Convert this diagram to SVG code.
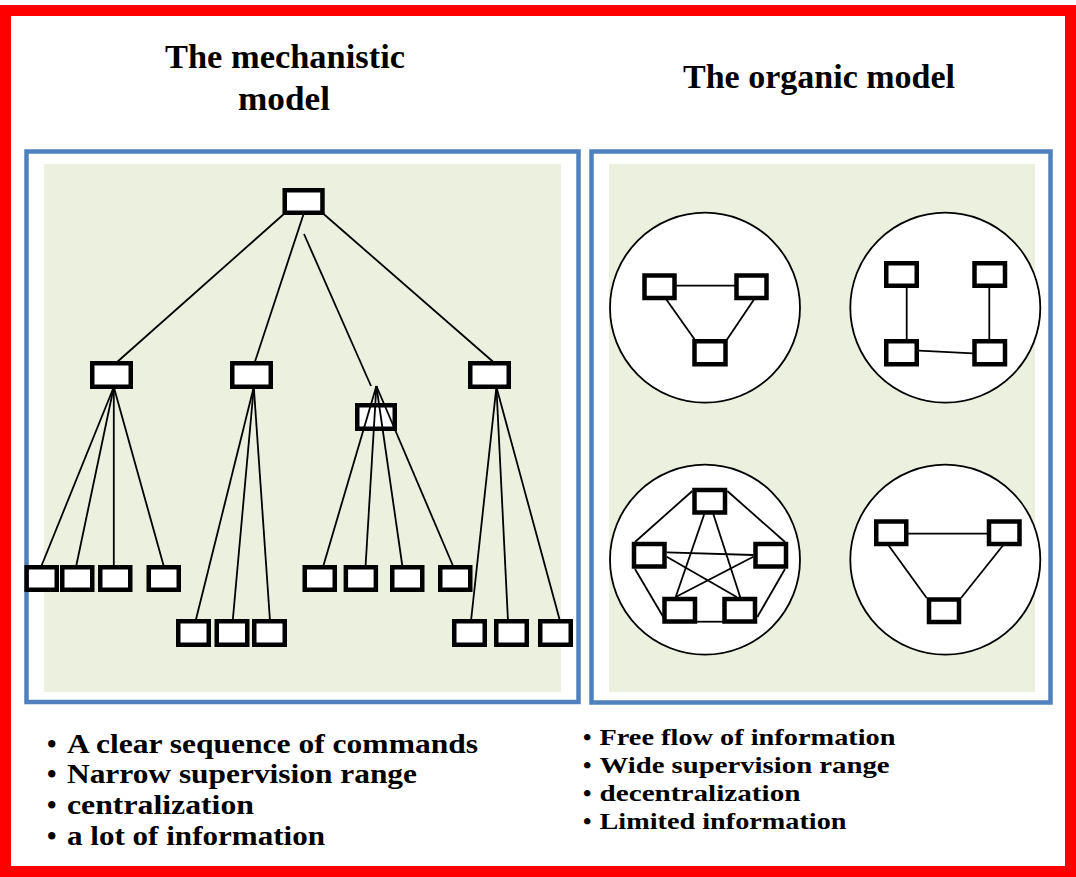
<svg xmlns="http://www.w3.org/2000/svg" width="1076" height="877" viewBox="0 0 1076 877">
<style>
.frame{fill:#fff;stroke:#FF0000;stroke-width:11}
.panel{fill:#fff;stroke:#4F81BD;stroke-width:4.5}
.bg{fill:#EBF1DE}
.n{fill:#fff;stroke:#000;stroke-width:4.5}
.c{fill:#fff;stroke:#000;stroke-width:1.8}
.l{stroke:#000;stroke-width:1.8;fill:none}
.t{font-family:"Liberation Serif","DejaVu Serif",serif;font-weight:bold;fill:#000}
.h{font-size:33px}
.b1{font-size:27px}
.b2{font-size:24px}
</style>
<rect class="frame" x="5.5" y="10.5" width="1065" height="861"/>
<g id="titles">
<text class="t h" x="285" y="68" text-anchor="middle" textLength="240" lengthAdjust="spacingAndGlyphs">The mechanistic</text>
<text class="t h" x="284" y="110" text-anchor="middle" textLength="92" lengthAdjust="spacingAndGlyphs">model</text>
<text class="t h" x="819" y="88" text-anchor="middle" textLength="272" lengthAdjust="spacingAndGlyphs">The organic model</text>
</g>
<g id="panels">
<rect class="panel" x="26.5" y="151.5" width="552" height="550.5"/>
<rect class="bg" x="44" y="164" width="517" height="528"/>
<rect class="panel" x="591.5" y="151.5" width="459" height="551"/>
<rect class="bg" x="609" y="164" width="426" height="528"/>
</g>
<g id="connectors">
<line class="l" x1="285" y1="213" x2="116" y2="363"/>
<line class="l" x1="303.6" y1="214" x2="254.5" y2="363"/>
<line class="l" x1="304" y1="234" x2="371" y2="386"/>
<line class="l" x1="322.5" y1="213" x2="494.5" y2="363"/>
<line class="l" x1="113.8" y1="387" x2="41" y2="567"/>
<line class="l" x1="113.8" y1="387" x2="76" y2="567"/>
<line class="l" x1="113.8" y1="387" x2="113.8" y2="567"/>
<line class="l" x1="113.8" y1="387" x2="164" y2="567"/>
<line class="l" x1="253.8" y1="387" x2="195.6" y2="621"/>
<line class="l" x1="253.8" y1="387" x2="232.7" y2="621"/>
<line class="l" x1="253.8" y1="387" x2="270" y2="621"/>
<line class="l" x1="496.4" y1="387" x2="471" y2="621"/>
<line class="l" x1="496.4" y1="387" x2="508" y2="621"/>
<line class="l" x1="496.4" y1="387" x2="560" y2="621"/>
</g>
<g id="mid-node-C">
<rect class="n" x="357.25" y="405.25" width="37.5" height="23.5"/>
<line class="l" x1="376.4" y1="386" x2="323" y2="567"/>
<line class="l" x1="376.4" y1="386" x2="365.5" y2="567"/>
<line class="l" x1="376.4" y1="386" x2="402.5" y2="567"/>
<line class="l" x1="376.4" y1="386" x2="453.5" y2="567"/>
</g>
<g id="node-top"><rect class="n" x="284.75" y="190.25" width="37.7" height="22.5"/></g>
<g id="node-A"><rect class="n" x="92.25" y="363.25" width="38.5" height="23.5"/></g>
<g id="node-B"><rect class="n" x="232.25" y="363.25" width="38.5" height="23.5"/></g>
<g id="node-D"><rect class="n" x="470.25" y="363.25" width="38.5" height="23.5"/></g>
<g id="leaves-A">
<rect class="n" x="26.65" y="567.25" width="30.1" height="22.5"/>
<rect class="n" x="62.25" y="567.25" width="30" height="22.5"/>
<rect class="n" x="100.25" y="567.25" width="30" height="22.5"/>
<rect class="n" x="148.75" y="567.25" width="30" height="22.5"/>
</g>
<g id="leaves-B">
<rect class="n" x="178.25" y="621.25" width="30.5" height="23.5"/>
<rect class="n" x="216.75" y="621.25" width="30.5" height="23.5"/>
<rect class="n" x="254.25" y="621.25" width="30.5" height="23.5"/>
</g>
<g id="leaves-C">
<rect class="n" x="304.75" y="567.25" width="30" height="22.5"/>
<rect class="n" x="345.85" y="567.25" width="30" height="22.5"/>
<rect class="n" x="392.25" y="567.25" width="30" height="22.5"/>
<rect class="n" x="440.25" y="567.25" width="30" height="22.5"/>
</g>
<g id="leaves-D">
<rect class="n" x="454.25" y="621.25" width="30.5" height="23.5"/>
<rect class="n" x="496.25" y="621.25" width="30.5" height="23.5"/>
<rect class="n" x="540.25" y="621.25" width="30.5" height="23.5"/>
</g>
<g id="circle-1">
<circle class="c" cx="705" cy="307.7" r="95"/>
<line class="l" x1="676" y1="285.7" x2="735" y2="285.7"/>
<line class="l" x1="666" y1="299" x2="695" y2="340"/>
<line class="l" x1="754.3" y1="299" x2="726.7" y2="340"/>
<rect class="n" x="644.5" y="275.5" width="30" height="22.5"/>
<rect class="n" x="736.5" y="275.5" width="30" height="22.5"/>
<rect class="n" x="694.5" y="341.25" width="31" height="23"/>
</g>
<g id="circle-2">
<circle class="c" cx="945.3" cy="307.7" r="95"/>
<line class="l" x1="906.7" y1="287" x2="906.7" y2="340"/>
<line class="l" x1="989.3" y1="287" x2="989.3" y2="340"/>
<line class="l" x1="919" y1="350.7" x2="973" y2="353.3"/>
<rect class="n" x="886.25" y="263.25" width="30.5" height="22.5"/>
<rect class="n" x="974.5" y="263.25" width="30.5" height="22.5"/>
<rect class="n" x="886.25" y="341.25" width="30.5" height="23"/>
<rect class="n" x="974.5" y="341.25" width="30.5" height="23"/>
</g>
<g id="circle-3">
<circle class="c" cx="705" cy="559.7" r="95"/>
<line class="l" x1="692.3" y1="491" x2="635" y2="542"/>
<line class="l" x1="727.3" y1="491" x2="785" y2="542"/>
<line class="l" x1="635" y1="569" x2="663.3" y2="617"/>
<line class="l" x1="785" y1="569" x2="757.3" y2="617"/>
<line class="l" x1="697" y1="621.7" x2="723" y2="621.7"/>
<line class="l" x1="666.7" y1="552.3" x2="753.3" y2="555"/>
<line class="l" x1="666.7" y1="556.7" x2="736.7" y2="597"/>
<line class="l" x1="753.3" y1="556.7" x2="675.7" y2="597"/>
<line class="l" x1="704.3" y1="514" x2="675.7" y2="597"/>
<line class="l" x1="713.3" y1="514" x2="741.7" y2="601.7"/>
<rect class="n" x="694.5" y="490" width="30.5" height="22.5"/>
<rect class="n" x="634" y="544" width="30.5" height="22.5"/>
<rect class="n" x="755.5" y="544" width="30.5" height="22.5"/>
<rect class="n" x="664.5" y="599" width="30.5" height="22.5"/>
<rect class="n" x="724.5" y="599" width="30.5" height="22.5"/>
</g>
<g id="circle-4">
<circle class="c" cx="945.3" cy="559.7" r="95"/>
<line class="l" x1="908" y1="533.7" x2="987" y2="533.7"/>
<line class="l" x1="888.3" y1="545" x2="926.7" y2="598"/>
<line class="l" x1="1003.3" y1="545" x2="961" y2="598"/>
<rect class="n" x="876.25" y="521.5" width="30" height="22.5"/>
<rect class="n" x="989" y="521.5" width="30.5" height="22.5"/>
<rect class="n" x="929" y="599.5" width="30" height="22.5"/>
</g>
<g id="bullets-left">
<text class="t b1" y="753"><tspan x="47">•</tspan><tspan x="67" textLength="411" lengthAdjust="spacingAndGlyphs">A clear sequence of commands</tspan></text>
<text class="t b1" y="783"><tspan x="47">•</tspan><tspan x="67" textLength="350" lengthAdjust="spacingAndGlyphs">Narrow supervision range</tspan></text>
<text class="t b1" y="814"><tspan x="47">•</tspan><tspan x="67" textLength="187" lengthAdjust="spacingAndGlyphs">centralization</tspan></text>
<text class="t b1" y="844.5"><tspan x="47">•</tspan><tspan x="67" textLength="258" lengthAdjust="spacingAndGlyphs">a lot of information</tspan></text>
</g>
<g id="bullets-right">
<text class="t b2" y="745"><tspan x="583">•</tspan><tspan x="599.5" textLength="296" lengthAdjust="spacingAndGlyphs">Free flow of information</tspan></text>
<text class="t b2" y="773"><tspan x="583">•</tspan><tspan x="599.5" textLength="290" lengthAdjust="spacingAndGlyphs">Wide supervision range</tspan></text>
<text class="t b2" y="800.5"><tspan x="583">•</tspan><tspan x="599.5" textLength="201" lengthAdjust="spacingAndGlyphs">decentralization</tspan></text>
<text class="t b2" y="828.5"><tspan x="583">•</tspan><tspan x="599.5" textLength="247" lengthAdjust="spacingAndGlyphs">Limited information</tspan></text>
</g>
</svg>
